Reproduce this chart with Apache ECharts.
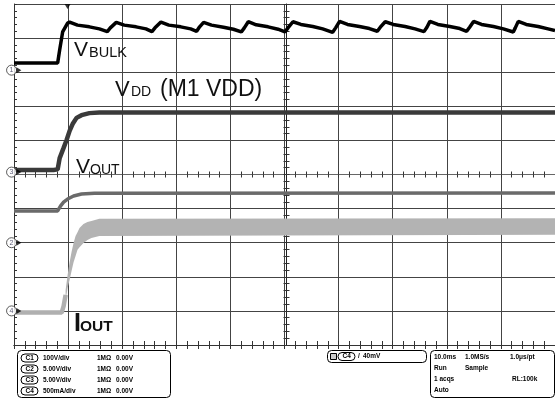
<!DOCTYPE html>
<html>
<head>
<meta charset="utf-8">
<script src="https://cdn.jsdelivr.net/npm/echarts@6/dist/echarts.min.js"></script>
<style>
  html, body { margin: 0; padding: 0; background: #fff; }
  #scope { width: 555px; height: 400px; }
</style>
</head>
<body>
<div id="scope"></div>
<script>
// time in ms (10 ms/div), level in divisions from the bottom graticule line
const bulkTime = [0, 8.07, 8.44, 8.99, 9.91, 10.28,
  11.74, 13.94, 15.78, 17.25, 17.80, 18.90,
  20.37, 22.57, 24.40, 25.50, 26.06, 27.16,
  28.62, 30.83, 32.66, 33.76, 34.31, 35.05,
  36.51, 38.72, 40.55, 42.02, 42.57, 43.30,
  44.77, 46.97, 48.81, 50.09, 50.64, 51.56,
  53.03, 55.23, 57.06, 58.90, 59.45, 60.18,
  61.65, 63.85, 65.69, 67.16, 67.71, 68.62,
  70.09, 72.29, 74.13, 75.78, 76.33, 76.88,
  78.35, 80.55, 82.39, 83.67, 84.22, 84.95,
  86.42, 88.62, 90.46, 92.29, 92.66, 93.21,
  94.68, 96.88, 98.72, 100];
const bulkLevel = [8.27, 8.27, 8.65, 9.18, 9.44, 9.47,
  9.38, 9.33, 9.27, 9.19, 9.30, 9.46,
  9.38, 9.33, 9.27, 9.19, 9.30, 9.47,
  9.38, 9.33, 9.27, 9.20, 9.33, 9.46,
  9.38, 9.32, 9.26, 9.18, 9.30, 9.48,
  9.39, 9.33, 9.26, 9.18, 9.30, 9.48,
  9.40, 9.34, 9.27, 9.17, 9.30, 9.49,
  9.40, 9.34, 9.28, 9.20, 9.32, 9.48,
  9.40, 9.34, 9.27, 9.19, 9.32, 9.49,
  9.40, 9.34, 9.28, 9.20, 9.32, 9.49,
  9.40, 9.34, 9.27, 9.18, 9.30, 9.49,
  9.40, 9.34, 9.27, 9.22];

const vddTime = [0, 7.3, 8.07, 8.44, 9.17, 9.72, 10.28, 10.83, 11.56, 12.48, 13.94, 15.78, 100];
const vddLevel = [5.13, 5.13, 5.15, 5.48, 5.78, 6.01, 6.28, 6.48, 6.66, 6.74, 6.80, 6.82, 6.82];

const voutTime = [0, 8.07, 8.62, 9.17, 9.91, 11.01, 12.48, 14.86, 100];
const voutLevel = [3.93, 3.93, 4.08, 4.19, 4.28, 4.37, 4.43, 4.45, 4.46];

const ioutTime = [0, 8.81, 9.17, 9.54];
const ioutLevel = [0.95, 0.95, 1.14, 1.47];

// noisy current band after the rise: lower and upper edge
const bandTime = [9.54, 9.91, 10.28, 10.64, 11.01, 11.38, 11.74, 12.11, 12.84, 13.58, 14.31, 15.78, 100];
const bandLow = [1.32, 1.67, 1.91, 2.17, 2.43, 2.61, 2.79, 2.87, 2.99, 3.08, 3.14, 3.20, 3.23];
const bandHigh = [1.61, 2.05, 2.43, 2.73, 2.99, 3.20, 3.31, 3.43, 3.55, 3.61, 3.64, 3.70, 3.72];

const groundChannels = ['1', '3', '2', '4'];
const groundLevels = [8.06, 5.07, 3.0, 1.0];
const triggerTime = 9.9;

const font = 'Liberation Sans, Arial, sans-serif';
const zip = (xs, ys) => xs.map((x, i) => [x, ys[i]]);

function xAx(extra) {
  return Object.assign({
    type: 'value', min: 0, max: 100, interval: 10,
    axisLabel: { show: false },
    splitLine: { show: false },
    axisLine: { show: true, lineStyle: { color: '#333', width: 1 } },
    axisTick: { show: true, inside: true, length: 4, lineStyle: { color: '#333' } },
    minorTick: { show: true, splitNumber: 5, length: 4, lineStyle: { color: '#333' } },
  }, extra);
}
function yAx(extra) {
  return Object.assign({
    type: 'value', min: 0, max: 10, interval: 1,
    axisLabel: { show: false },
    splitLine: { show: false },
    axisLine: { show: true, lineStyle: { color: '#333', width: 1 } },
    axisTick: { show: true, inside: true, length: 3, lineStyle: { color: '#333' } },
    minorTick: { show: true, splitNumber: 5, length: 3, lineStyle: { color: '#333' } },
  }, extra);
}

function label(text, x, y, size, bold) {
  return {
    type: 'text', x: x, y: y, z: 50,
    style: {
      text: text, fill: '#111',
      font: (bold ? 'bold ' : '') + size + 'px ' + font,
      align: 'left', verticalAlign: 'middle',
      textAlign: 'left', textVerticalAlign: 'middle',
    },
  };
}
function small(text, x, y) {
  return {
    type: 'text', x: x, y: y, z: 50,
    style: {
      text: text, fill: '#000', font: 'bold 6.5px ' + font,
      align: 'left', verticalAlign: 'middle',
      textAlign: 'left', textVerticalAlign: 'middle',
    },
  };
}
function pill(text, x, y) {
  return [
    { type: 'rect', z: 50, shape: { x: x, y: y - 4, width: 17, height: 8, r: 4 },
      style: { fill: '#fff', stroke: '#000', lineWidth: 1 } },
    small(text, x + 4.5, y),
  ];
}

const chRows = [
  ['C1', '100V/div', '1MΩ', '0.00V'],
  ['C2', '5.00V/div', '1MΩ', '0.00V'],
  ['C3', '5.00V/div', '1MΩ', '0.00V'],
  ['C4', '500mA/div', '1MΩ', '0.00V'],
];

const graphic = [
  label('V', 74, 50, 21), label('BULK', 89, 52.5, 14.5),
  label('V', 115, 89.5, 22), label('DD', 131, 92, 14), label('(M1 VDD)', 160, 89.5, 23),
  label('V', 76, 167.5, 21), label('OUT', 90, 170, 14),
  label('I', 74, 324, 25, true), label('OUT', 80, 327, 15.5, true),
  { type: 'rect', z: 40, shape: { x: 17.5, y: 350.5, width: 153, height: 47, r: 4 },
    style: { fill: '#fff', stroke: '#000', lineWidth: 1 } },
  { type: 'rect', z: 40, shape: { x: 327.5, y: 350.5, width: 99, height: 12, r: 4 },
    style: { fill: '#fff', stroke: '#000', lineWidth: 1 } },
  { type: 'rect', z: 50, shape: { x: 330.5, y: 353.5, width: 6, height: 6 },
    style: { fill: '#ccc', stroke: '#000', lineWidth: 1 } },
  { type: 'rect', z: 40, shape: { x: 430.5, y: 350.5, width: 124, height: 47, r: 4 },
    style: { fill: '#fff', stroke: '#000', lineWidth: 1 } },
  small('10.0ms', 434, 357), small('1.0MS/s', 465, 357), small('1.0μs/pt', 510, 357),
  small('Run', 434, 368), small('Sample', 465, 368),
  small('1 acqs', 434, 379), small('RL:100k', 512, 379),
  small('Auto', 434, 390),
  small('/', 358, 356.5), small('40mV', 363, 356.5),
].concat(pill('C4', 338, 356.5));

chRows.forEach((r, i) => {
  const y = 358 + i * 11;
  graphic.push.apply(graphic, pill(r[0], 21, y));
  graphic.push(small(r[1], 43, y), small(r[2], 97, y), small(r[3], 116, y));
});

const option = {
  backgroundColor: '#fff',
  animation: false,
  grid: { left: 14, top: 4, width: 545, height: 341 },
  xAxis: [
    xAx({ position: 'bottom', splitLine: { show: true, lineStyle: { color: '#444', width: 1 } } }),
    xAx({ position: 'top' }),
    xAx({ position: 'bottom', offset: -170.5, axisLine: { show: true, lineStyle: { color: '#666' } }, axisTick: { show: true, inside: true, length: 3, lineStyle: { color: '#333' } }, minorTick: { show: true, splitNumber: 5, length: 3, lineStyle: { color: '#333' } } }),
    xAx({ position: 'bottom', offset: -170.5, axisLine: { show: false }, axisTick: { show: true, inside: false, length: 3, lineStyle: { color: '#333' } }, minorTick: { show: true, splitNumber: 5, length: 3, lineStyle: { color: '#333' } } }),
  ],
  yAxis: [
    yAx({ position: 'left', splitLine: { show: true, lineStyle: { color: '#444', width: 1 } } }),
    yAx({ position: 'left', offset: -272.5, axisLine: { show: true, lineStyle: { color: '#222' } } }),
    yAx({ position: 'left', offset: -272.5, axisLine: { show: false }, axisTick: { show: true, inside: false, length: 3, lineStyle: { color: '#333' } } }),
  ],
  series: [
    {
      name: 'IOUT band', type: 'custom', z: 3, silent: true,
      data: [[bandTime[0], bandLow[0]]],
      renderItem: (params, api) => {
        const top = bandTime.map((t, i) => api.coord([t, bandHigh[i]]));
        const bottom = bandTime.map((t, i) => api.coord([t, bandLow[i]])).reverse();
        return { type: 'polygon', shape: { points: top.concat(bottom) }, style: { fill: '#b3b3b3' } };
      },
    },
    {
      name: 'IOUT', type: 'line', data: zip(ioutTime, ioutLevel), showSymbol: false,
      lineStyle: { color: '#b0b0b0', width: 4.5 }, z: 3,
    },
    {
      name: 'VOUT', type: 'line', data: zip(voutTime, voutLevel), showSymbol: false,
      lineStyle: { color: '#6a6a6a', width: 3.5 }, z: 4,
    },
    {
      name: 'VDD', type: 'line', data: zip(vddTime, vddLevel), showSymbol: false,
      lineStyle: { color: '#3a3a3a', width: 4.5 }, z: 5,
    },
    {
      name: 'VBULK', type: 'line', data: zip(bulkTime, bulkLevel), showSymbol: false,
      lineStyle: { color: '#000', width: 3.5 }, z: 6,
    },
    {
      name: 'ground', type: 'scatter', clip: false, z: 10,
      data: groundLevels.map((y, i) => ({ value: [-0.45, y], name: groundChannels[i] })),
      symbol: 'circle', symbolSize: 10,
      itemStyle: { color: '#fff', borderColor: '#333', borderWidth: 1 },
      label: { show: true, position: 'inside', formatter: '{b}', fontSize: 7, color: '#335', fontFamily: font },
    },
    {
      name: 'ground arrow', type: 'scatter', clip: false, z: 10,
      data: groundLevels.map(y => [0.9, y]),
      symbol: 'triangle', symbolSize: [6, 5], symbolRotate: -90,
      itemStyle: { color: '#000' },
    },
    {
      name: 'trigger', type: 'scatter', clip: false, z: 10,
      data: [[triggerTime, 9.93]],
      symbol: 'triangle', symbolSize: [6, 5], symbolRotate: 180,
      itemStyle: { color: '#000' },
    },
  ],
  graphic: graphic,
};

const chart = echarts.init(document.getElementById('scope'));
chart.setOption(option);
</script>
</body>
</html>
